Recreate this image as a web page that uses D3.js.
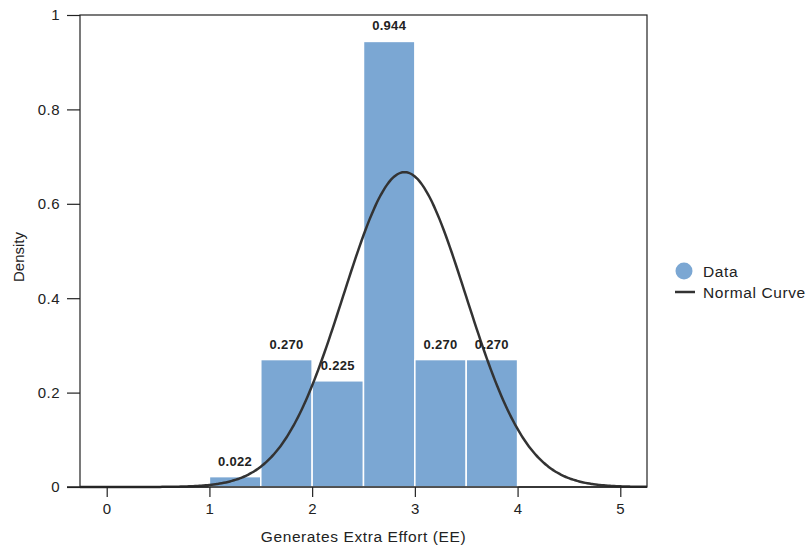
<!DOCTYPE html>
<html>
<head>
<meta charset="utf-8">
<script src="https://cdn.jsdelivr.net/npm/d3@7"></script>
<style>
  body { margin: 0; background: #fff; }
  text { font-family: "Liberation Sans", Arial, sans-serif; }
</style>
</head>
<body>
<svg id="chart" width="809" height="546"></svg>
<script>
// histogram bins (EE score) and their densities
const binStarts = [1.0, 1.5, 2.0, 2.5, 3.0, 3.5];
const binWidth  = 0.5;
const densities = [0.022, 0.270, 0.225, 0.944, 0.270, 0.270];
const labels    = ['0.022', '0.270', '0.225', '0.944', '0.270', '0.270'];

// fitted normal curve parameters
const curveMean = 2.90;
const curveSd   = 0.598;

const xTicks = [0, 1, 2, 3, 4, 5];
const yTicks = [0, 0.2, 0.4, 0.6, 0.8, 1];

const plotL = 80, plotR = 647, plotT = 15, plotB = 487;
const barColor = '#7ba7d3';

const svg = d3.select('#chart');

const x = d3.scaleLinear().domain([-0.26, 5.26]).range([plotL, plotR]);
const y = d3.scaleLinear().domain([0, 1]).range([plotB, plotT]);

// frame
svg.append('rect')
    .attr('x', plotL).attr('y', plotT)
    .attr('width', plotR - plotL).attr('height', plotB - plotT)
    .attr('fill', 'none').attr('stroke', '#222').attr('stroke-width', 1.2);

// bars
svg.append('g').selectAll('rect')
  .data(densities)
  .join('rect')
    .attr('x', (d, i) => x(binStarts[i]))
    .attr('y', d => y(d))
    .attr('width', (d, i) => x(binStarts[i] + binWidth) - x(binStarts[i]))
    .attr('height', d => y(0) - y(d))
    .attr('fill', barColor)
    .attr('stroke', '#fff')
    .attr('stroke-width', 1.5);

// normal curve
const curvePts = d3.range(-0.26, 5.2601, 0.02).map(v => [
  v, Math.exp(-0.5 * ((v - curveMean) / curveSd) ** 2) / (curveSd * Math.sqrt(2 * Math.PI))
]);
svg.append('path')
    .datum(curvePts)
    .attr('d', d3.line().x(d => x(d[0])).y(d => y(d[1])).curve(d3.curveBasis))
    .attr('fill', 'none')
    .attr('stroke', '#333')
    .attr('stroke-width', 2.5);

// value labels
svg.append('g').selectAll('text')
  .data(densities)
  .join('text')
    .attr('x', (d, i) => x(binStarts[i] + binWidth / 2))
    .attr('y', d => y(d) - 11)
    .attr('text-anchor', 'middle')
    .attr('font-size', 13)
    .attr('font-weight', 'bold')
    .attr('letter-spacing', 0.3)
    .attr('fill', '#222')
    .text((d, i) => labels[i]);

// axes
const xAxis = svg.append('g')
    .attr('transform', `translate(0,${plotB})`)
    .call(d3.axisBottom(x).tickValues(xTicks).tickSize(10).tickPadding(6).tickFormat(d3.format('d')));
const yAxis = svg.append('g')
    .attr('transform', `translate(${plotL},0)`)
    .call(d3.axisLeft(y).tickValues(yTicks).tickSize(13).tickPadding(7).tickFormat(d => d === 0 || d === 1 ? d3.format('d')(d) : d3.format('.1f')(d)));

[xAxis, yAxis].forEach(g => {
  g.select('.domain').remove();
  g.selectAll('line').attr('stroke', '#222').attr('stroke-width', 1.2);
  g.selectAll('text').attr('font-size', 15).attr('letter-spacing', 0.5).attr('fill', '#222')
    .attr('font-family', '"Liberation Sans", Arial, sans-serif');
});
svg.append('line')
    .attr('x1', plotL - 13).attr('x2', plotR)
    .attr('y1', plotB).attr('y2', plotB)
    .attr('stroke', '#222').attr('stroke-width', 1.5);

// axis titles
svg.append('text')
    .attr('x', (plotL + plotR) / 2).attr('y', 542)
    .attr('text-anchor', 'middle')
    .attr('font-size', 15.5).attr('letter-spacing', 0.6).attr('fill', '#222')
    .text('Generates Extra Effort (EE)');
svg.append('text')
    .attr('transform', `translate(24,${(plotT + plotB) / 2 + 6}) rotate(-90)`)
    .attr('text-anchor', 'middle')
    .attr('font-size', 15).attr('fill', '#222')
    .text('Density');

// legend
const legend = svg.append('g').attr('transform', 'translate(684,271)');
legend.append('circle').attr('r', 8.5).attr('fill', barColor);
legend.append('text').attr('x', 19).attr('y', 5.5).attr('font-size', 15.5).attr('letter-spacing', 0.6).attr('fill', '#222').text('Data');
legend.append('line')
    .attr('x1', -9).attr('x2', 11).attr('y1', 21).attr('y2', 21)
    .attr('stroke', '#333').attr('stroke-width', 2.5);
legend.append('text').attr('x', 19).attr('y', 26.5).attr('font-size', 15.5).attr('letter-spacing', 0.6).attr('fill', '#222').text('Normal Curve');
</script>
</body>
</html>
